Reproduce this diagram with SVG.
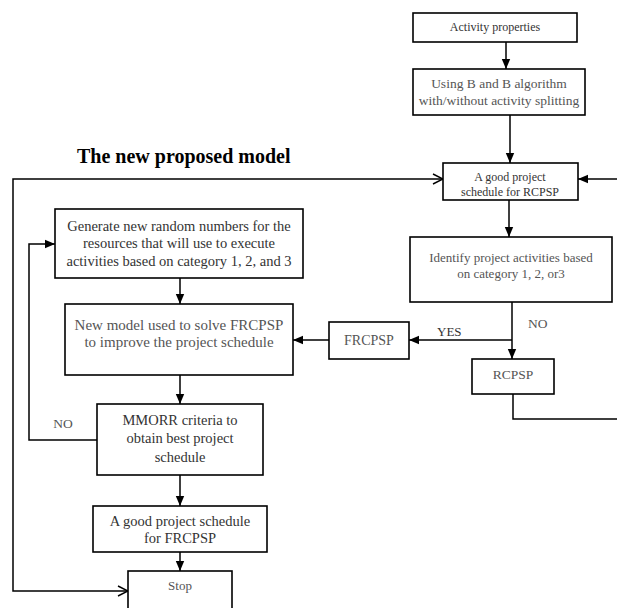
<svg xmlns="http://www.w3.org/2000/svg" width="617" height="608" viewBox="0 0 617 608">
<defs>
<marker id="fill" viewBox="0 0 10 10" refX="10" refY="5" markerWidth="10" markerHeight="10" markerUnits="userSpaceOnUse" orient="auto-start-reverse">
<path d="M0,0.8 L10,5 L0,9.2 Z" fill="#000"/>
</marker>
<marker id="open" viewBox="0 0 12 12" refX="11" refY="6" markerWidth="12" markerHeight="12" markerUnits="userSpaceOnUse" orient="auto-start-reverse">
<path d="M1,1 L11,6 L1,11" fill="none" stroke="#000" stroke-width="1.4"/>
</marker>
</defs>
<style>
.box{fill:#fff;stroke:#000;stroke-width:1.6}
.t{font-family:"Liberation Serif","Times New Roman",serif;fill:#333;text-anchor:middle}
.g{fill:#555}
.c{fill:none;stroke:#000;stroke-width:1.5}
</style>
<rect width="617" height="608" fill="#fff"/>
<text x="77" y="163" font-family="Liberation Serif, Times New Roman, serif" font-weight="bold" font-size="20" fill="#000">The new proposed model</text>
<g id="connectors">
<line class="c" x1="506" y1="42" x2="506" y2="69" marker-end="url(#fill)"/>
<line class="c" x1="510" y1="115" x2="510" y2="163" marker-end="url(#fill)"/>
<line class="c" x1="509" y1="200" x2="509" y2="237" marker-end="url(#fill)"/>
<polyline class="c" points="617,179 578,179" marker-end="url(#fill)"/>
<line class="c" x1="512" y1="302" x2="512" y2="359" marker-end="url(#fill)"/>
<polyline class="c" points="512,340 409,340" marker-end="url(#fill)"/>
<line class="c" x1="329" y1="340" x2="293" y2="340" marker-end="url(#fill)"/>
<polyline class="c" points="513,394 513,419 617,419"/>
<line class="c" x1="180" y1="278" x2="180" y2="304" marker-end="url(#fill)"/>
<line class="c" x1="180" y1="375" x2="180" y2="404" marker-end="url(#fill)"/>
<line class="c" x1="180" y1="475" x2="180" y2="506" marker-end="url(#fill)"/>
<line class="c" x1="180" y1="552" x2="180" y2="571" marker-end="url(#fill)"/>
<polyline class="c" points="97,440 29,440 29,244 55,244" marker-end="url(#fill)"/>
<polyline class="c" points="443,179 13,179 13,591 128,591" marker-start="url(#open)" marker-end="url(#open)"/>
<text class="t" x="437" y="336" font-size="13" style="text-anchor:start">YES</text>
<text class="t g" x="528" y="328" font-size="13.5" style="text-anchor:start">NO</text>
<text class="t g" x="63" y="428" font-size="13.5">NO</text>
</g>
<g id="activity-properties">
<rect class="box" x="413" y="13" width="164" height="29"/>
<text class="t" x="495" y="31" font-size="12">Activity properties</text>
</g>
<g id="bb-algorithm">
<rect class="box" x="413" y="69" width="172" height="46"/>
<text class="t g" x="499" y="88" font-size="13.5">Using B and B algorithm</text>
<text class="t g" x="499" y="105" font-size="13.5">with/without activity splitting</text>
</g>
<g id="good-rcpsp">
<rect class="box" x="443" y="163" width="135" height="37"/>
<text class="t" x="510" y="181" font-size="12">A good project</text>
<text class="t" x="510" y="196" font-size="12">schedule for RCPSP</text>
</g>
<g id="identify">
<rect class="box" x="410" y="237" width="202" height="65"/>
<text class="t g" x="511" y="262" font-size="13">Identify project activities based</text>
<text class="t g" x="511" y="278" font-size="13">on category 1, 2, or3</text>
</g>
<g id="frcpsp">
<rect class="box" x="329" y="322" width="80" height="37"/>
<text class="t g" x="369" y="345" font-size="14">FRCPSP</text>
</g>
<g id="rcpsp">
<rect class="box" x="472" y="359" width="82" height="35"/>
<text class="t g" x="513" y="379" font-size="13.5">RCPSP</text>
</g>
<g id="generate">
<rect class="box" x="55" y="209" width="248" height="69"/>
<text class="t" x="179" y="231" font-size="14.5">Generate new random numbers for the</text>
<text class="t" x="179" y="248" font-size="14.5">resources that will use to execute</text>
<text class="t" x="179" y="266" font-size="14.5">activities based on category 1, 2, and 3</text>
</g>
<g id="new-model">
<rect class="box" x="65" y="304" width="228" height="71"/>
<text class="t g" x="179" y="330" font-size="15">New model used to solve FRCPSP</text>
<text class="t g" x="179" y="347" font-size="15">to improve the project schedule</text>
</g>
<g id="mmorr">
<rect class="box" x="97" y="404" width="166" height="71"/>
<text class="t" x="180" y="425" font-size="14.5">MMORR criteria to</text>
<text class="t" x="180" y="443" font-size="14.5">obtain best project</text>
<text class="t" x="180" y="462" font-size="14.5">schedule</text>
</g>
<g id="good-frcpsp">
<rect class="box" x="93" y="506" width="174" height="46"/>
<text class="t" x="180" y="526" font-size="14.5">A good project schedule</text>
<text class="t" x="180" y="543" font-size="14.5">for FRCPSP</text>
</g>
<g id="stop">
<rect class="box" x="128" y="571" width="104" height="50"/>
<text class="t g" x="180" y="590" font-size="13">Stop</text>
</g>
</svg>
